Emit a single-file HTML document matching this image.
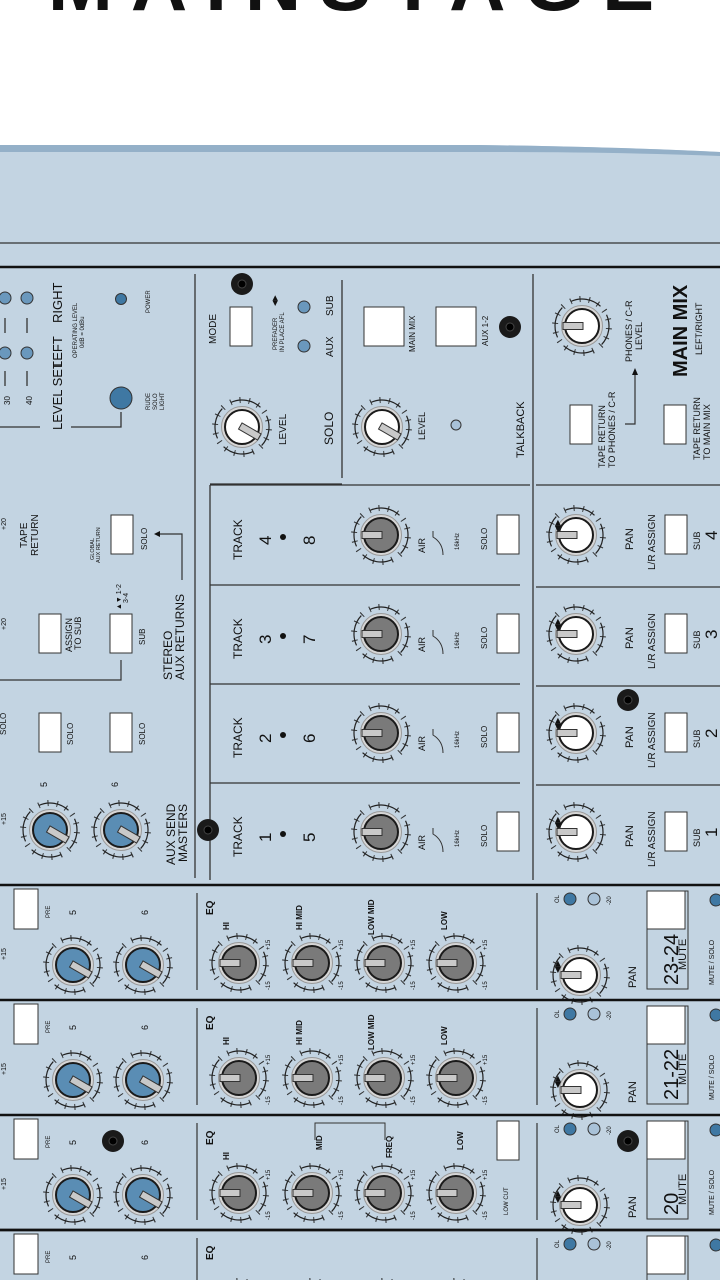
<!DOCTYPE html>
<html><head><meta charset="utf-8">
<style>
html,body{margin:0;padding:0;background:#fff;width:720px;height:1280px;overflow:hidden}
svg{display:block}
text{font-family:"Liberation Sans",sans-serif;fill:#111}
</style></head><body>
<svg width="720" height="1280" viewBox="0 0 720 1280" xmlns="http://www.w3.org/2000/svg">
<defs>
<g id="ring"><circle r="27" fill="none" stroke="#222" stroke-width="1.2" stroke-dasharray="32 10.4" transform="rotate(65)"/><circle r="27" fill="none" stroke="#222" stroke-width="6" stroke-dasharray="1 8.4" transform="rotate(65)" opacity=".9"/></g>
<g id="kg"><use href="#ring"/><circle r="20.5" fill="#d6d6d6" stroke="#999" stroke-width="1"/><circle r="17" fill="#7a7a7a" stroke="#1a1a1a" stroke-width="2"/><rect x="-19" y="-3.5" width="20" height="7" fill="#c9c9c9" stroke="#333" stroke-width="1"/></g>
<g id="kw"><use href="#ring"/><circle r="20.5" fill="#d6d6d6" stroke="#999" stroke-width="1"/><circle r="17" fill="#fff" stroke="#1a1a1a" stroke-width="2"/><rect x="-19" y="-3.5" width="20" height="7" fill="#c9c9c9" stroke="#333" stroke-width="1"/></g>
<g id="kb"><use href="#ring"/><circle r="20.5" fill="#d6d6d6" stroke="#999" stroke-width="1"/><circle r="17" fill="#5a8db4" stroke="#1a1a1a" stroke-width="2"/><rect x="-2" y="-3.5" width="22" height="7" fill="#c9c9c9" stroke="#333" stroke-width="1" transform="rotate(30)"/></g>
<g id="kwr"><use href="#ring"/><circle r="20.5" fill="#d6d6d6" stroke="#999" stroke-width="1"/><circle r="17" fill="#fff" stroke="#1a1a1a" stroke-width="2"/><rect x="-2" y="-3.5" width="22" height="7" fill="#c9c9c9" stroke="#333" stroke-width="1" transform="rotate(30)"/></g>
<g id="jack"><circle r="11" fill="#1a1a1a"/><circle r="4" fill="#000" stroke="#444"/></g>
</defs>

<text x="360" y="10" font-size="78" font-weight="bold" text-anchor="middle" letter-spacing="18">MAINSTAGE</text>

<path d="M0 145 L480 145 Q620 147 720 152 L720 1280 L0 1280 Z" fill="#c3d4e2"/>
<path d="M0 145 L480 145 Q620 147 720 152 L720 156 Q620 152 480 152 L0 152 Z" fill="#94b0c8"/>
<line x1="0" y1="243" x2="720" y2="243" stroke="#333" stroke-width="1.2"/>
<line x1="0" y1="267" x2="720" y2="267" stroke="#111" stroke-width="2.5"/>

<g stroke="#333" stroke-width="1.3">
<line x1="195" y1="274" x2="195" y2="878"/>
<line x1="533" y1="274" x2="533" y2="880"/>
<line x1="342" y1="280" x2="342" y2="478"/>
<line x1="210" y1="485" x2="530" y2="485"/>
<line x1="210" y1="485" x2="210" y2="880"/>
<line x1="210" y1="585" x2="520" y2="585"/>
<line x1="210" y1="684" x2="520" y2="684"/>
<line x1="210" y1="783" x2="520" y2="783"/>
<line x1="536" y1="485" x2="720" y2="485"/>
<line x1="536" y1="587" x2="720" y2="587"/>
<line x1="536" y1="686" x2="720" y2="686"/>
<line x1="536" y1="785" x2="720" y2="785"/>
</g>

<g fill="#6a98bd" stroke="#333" stroke-width="1">
<circle cx="5" cy="298" r="6"/><circle cx="27" cy="298" r="6"/>
<circle cx="5" cy="353" r="6"/><circle cx="27" cy="353" r="6"/>
<circle cx="121" cy="299" r="5.5" fill="#3f78a3"/>
<circle cx="121" cy="398" r="11" fill="#3f78a3"/>
</g>
<g stroke="#333" stroke-width="1.3">
<line x1="5" y1="318" x2="5" y2="333"/><line x1="27" y1="318" x2="27" y2="333"/>
<line x1="5" y1="371" x2="5" y2="386"/><line x1="27" y1="371" x2="27" y2="386"/>
<polyline points="0,427 40,427" fill="none"/>
<polyline points="71,427 121,427 121,412" fill="none"/>
</g>
<text transform="translate(10,405) rotate(-90)" font-size="8">30</text>
<text transform="translate(32,405) rotate(-90)" font-size="8">40</text>
<text transform="translate(62,430) rotate(-90)" font-size="13">LEVEL SET</text>
<text transform="translate(62,368) rotate(-90)" font-size="13">LEFT</text>
<text transform="translate(62,323) rotate(-90)" font-size="13">RIGHT</text>
<text transform="translate(77,358) rotate(-90)" font-size="6">OPERATING LEVEL</text>
<text transform="translate(84,348) rotate(-90)" font-size="6">0dB = 0dBu</text>
<text transform="translate(150,313) rotate(-90)" font-size="6">POWER</text>
<text transform="translate(150,410) rotate(-90)" font-size="6">RUDE</text>
<text transform="translate(157,410) rotate(-90)" font-size="6">SOLO</text>
<text transform="translate(164,410) rotate(-90)" font-size="6">LIGHT</text>

<text transform="translate(6,530) rotate(-90)" font-size="7">+20</text>
<text transform="translate(6,630) rotate(-90)" font-size="7">+20</text>
<text transform="translate(27,548) rotate(-90)" font-size="10">TAPE</text>
<text transform="translate(38,556) rotate(-90)" font-size="10">RETURN</text>
<text transform="translate(94,560) rotate(-90)" font-size="5.5">GLOBAL</text>
<text transform="translate(100,563) rotate(-90)" font-size="5.5">AUX RETURN</text>
<rect x="111" y="515" width="22" height="39" fill="#fff" stroke="#333"/>
<text transform="translate(147,550) rotate(-90)" font-size="8">SOLO</text>
<polyline points="156,534 182,534 182,580" fill="none" stroke="#333" stroke-width="1.2"/>
<path d="M154 534 l6 -3 v6 z" fill="#111"/>
<text transform="translate(172,680) rotate(-90)" font-size="12">STEREO</text>
<text transform="translate(184,680) rotate(-90)" font-size="12">AUX RETURNS</text>
<rect x="39" y="614" width="22" height="39" fill="#fff" stroke="#333"/>
<text transform="translate(72,652) rotate(-90)" font-size="9">ASSIGN</text>
<text transform="translate(81,650) rotate(-90)" font-size="9">TO SUB</text>
<rect x="110" y="614" width="22" height="39" fill="#fff" stroke="#333"/>
<text transform="translate(145,645) rotate(-90)" font-size="8">SUB</text>
<text transform="translate(121,610) rotate(-90)" font-size="7">▲▼ 1-2</text>
<text transform="translate(128,603) rotate(-90)" font-size="7">3-4</text>
<polyline points="0,680 121,680 121,660 M50,680 50,660" fill="none" stroke="#333" stroke-width="1.2"/>
<text transform="translate(6,735) rotate(-90)" font-size="8">SOLO</text>
<rect x="39" y="713" width="22" height="39" fill="#fff" stroke="#333"/>
<text transform="translate(73,745) rotate(-90)" font-size="8">SOLO</text>
<rect x="110" y="713" width="22" height="39" fill="#fff" stroke="#333"/>
<text transform="translate(145,745) rotate(-90)" font-size="8">SOLO</text>
<text x="47" y="787" font-size="9" transform="rotate(-90 47 787)">5</text>
<text x="118" y="787" font-size="9" transform="rotate(-90 118 787)">6</text>
<use href="#kb" transform="translate(50,830)"/>
<use href="#kb" transform="translate(121,830)"/>
<text transform="translate(6,825) rotate(-90)" font-size="7">+15</text>
<text transform="translate(175,865) rotate(-90)" font-size="12">AUX SEND</text>
<text transform="translate(187,862) rotate(-90)" font-size="12">MASTERS</text>
<use href="#jack" transform="translate(208,830)"/>

<use href="#jack" transform="translate(242,284)"/>
<rect x="230" y="307" width="22" height="39" fill="#fff" stroke="#333"/>
<text transform="translate(216,344) rotate(-90)" font-size="10">MODE</text>
<text transform="translate(277,350) rotate(-90)" font-size="6">PREFADER</text>
<text transform="translate(284,352) rotate(-90)" font-size="6">IN PLACE AFL</text>
<text transform="translate(277,306) rotate(-90)" font-size="7">◀▶</text>
<circle cx="304" cy="307" r="6" fill="#6a98bd" stroke="#333"/>
<circle cx="304" cy="346" r="6" fill="#6a98bd" stroke="#333"/>
<text transform="translate(333,316) rotate(-90)" font-size="10">SUB</text>
<text transform="translate(333,357) rotate(-90)" font-size="10">AUX</text>
<use href="#kwr" transform="translate(242,427)"/>
<text transform="translate(286,445) rotate(-90)" font-size="10">LEVEL</text>
<text transform="translate(333,445) rotate(-90)" font-size="12">SOLO</text>
<line x1="210" y1="484" x2="342" y2="484" stroke="#333" stroke-width="1.3"/>

<rect x="364" y="307" width="40" height="39" fill="#fff" stroke="#333"/>
<text transform="translate(415,352) rotate(-90)" font-size="8">MAIN MIX</text>
<rect x="436" y="307" width="40" height="39" fill="#fff" stroke="#333"/>
<text transform="translate(488,346) rotate(-90)" font-size="8">AUX 1-2</text>
<use href="#jack" transform="translate(510,327)"/>
<use href="#kwr" transform="translate(382,427)"/>
<text transform="translate(425,440) rotate(-90)" font-size="9">LEVEL</text>
<circle cx="456" cy="425" r="5" fill="#a9c2d8" stroke="#333"/>
<text transform="translate(524,458) rotate(-90)" font-size="11">TALKBACK</text>

<use href="#kw" transform="translate(582,326)"/>
<text transform="translate(632,362) rotate(-90)" font-size="9">PHONES / C-R</text>
<text transform="translate(642,350) rotate(-90)" font-size="9">LEVEL</text>
<polyline points="625,424 635,424 635,372" fill="none" stroke="#333" stroke-width="1.2"/>
<path d="M635 368 l-3 7 h6 z" fill="#111"/>
<rect x="570" y="405" width="22" height="39" fill="#fff" stroke="#333"/>
<text transform="translate(605,468) rotate(-90)" font-size="9">TAPE RETURN</text>
<text transform="translate(615,468) rotate(-90)" font-size="9">TO PHONES / C-R</text>
<rect x="664" y="405" width="22" height="39" fill="#fff" stroke="#333"/>
<text transform="translate(700,460) rotate(-90)" font-size="9">TAPE RETURN</text>
<text transform="translate(710,460) rotate(-90)" font-size="9">TO MAIN MIX</text>
<text transform="translate(687,377) rotate(-90)" font-size="20" font-weight="bold">MAIN MIX</text>
<text transform="translate(702,355) rotate(-90)" font-size="9">LEFT/RIGHT</text>

<g id="trk">
<text transform="translate(242,560) rotate(-90)" font-size="12">TRACK</text>
<circle cx="283" cy="537" r="3" fill="#111"/>
<use href="#kg" transform="translate(381,535)"/>
<text transform="translate(425,553) rotate(-90)" font-size="9">AIR</text>
<path d="M443 555 q0 -12 -10 -18 q0 -3 0 -6" fill="none" stroke="#333"/>
<text transform="translate(459,550) rotate(-90)" font-size="6">16kHz</text>
<text transform="translate(487,550) rotate(-90)" font-size="8">SOLO</text>
<rect x="497" y="515" width="22" height="39" fill="#fff" stroke="#333"/>
<use href="#kw" transform="translate(576,535)"/>
<text transform="translate(560,532) rotate(-90)" font-size="8">◀▶</text>
<text transform="translate(633,550) rotate(-90)" font-size="11">PAN</text>
<text transform="translate(655,570) rotate(-90)" font-size="10">L/R ASSIGN</text>
<rect x="665" y="515" width="22" height="39" fill="#fff" stroke="#333"/>
<text transform="translate(700,550) rotate(-90)" font-size="9">SUB</text>
</g>
<use href="#trk" transform="translate(0,99)"/>
<use href="#trk" transform="translate(0,198)"/>
<use href="#trk" transform="translate(0,297)"/>
<g font-size="17">
<text transform="translate(271,545) rotate(-90)">4</text><text transform="translate(315,545) rotate(-90)">8</text><text transform="translate(717,540) rotate(-90)">4</text>
<text transform="translate(271,644) rotate(-90)">3</text><text transform="translate(315,644) rotate(-90)">7</text><text transform="translate(717,639) rotate(-90)">3</text>
<text transform="translate(271,743) rotate(-90)">2</text><text transform="translate(315,743) rotate(-90)">6</text><text transform="translate(717,738) rotate(-90)">2</text>
<text transform="translate(271,842) rotate(-90)">1</text><text transform="translate(315,842) rotate(-90)">5</text><text transform="translate(717,837) rotate(-90)">1</text>
</g>
<use href="#jack" transform="translate(628,700)"/>

<g id="ch">
<line x1="0" y1="885" x2="720" y2="885" stroke="#111" stroke-width="2.5"/>
<line x1="197" y1="893" x2="197" y2="990" stroke="#333" stroke-width="1.2"/>
<line x1="537" y1="893" x2="537" y2="990" stroke="#333" stroke-width="1.2"/>
<rect x="14" y="889" width="24" height="40" fill="#fff" stroke="#333"/>
<text transform="translate(50,918) rotate(-90)" font-size="6">PRE</text>
<text transform="translate(76,915) rotate(-90)" font-size="9">5</text>
<text transform="translate(148,915) rotate(-90)" font-size="9">6</text>
<use href="#kb" transform="translate(73,965)"/>
<use href="#kb" transform="translate(143,965)"/>
<text transform="translate(6,960) rotate(-90)" font-size="7">+15</text>
<text transform="translate(213,915) rotate(-90)" font-size="10" font-weight="bold">EQ</text>
<use href="#kg" transform="translate(239,963)"/>
<use href="#kg" transform="translate(312,963)"/>
<use href="#kg" transform="translate(384,963)"/>
<use href="#kg" transform="translate(456,963)"/>
<g font-size="6"><text transform="translate(270,990) rotate(-90)">-15</text><text transform="translate(270,950) rotate(-90)">+15</text>
<text transform="translate(343,990) rotate(-90)">-15</text><text transform="translate(343,950) rotate(-90)">+15</text>
<text transform="translate(415,990) rotate(-90)">-15</text><text transform="translate(415,950) rotate(-90)">+15</text>
<text transform="translate(487,990) rotate(-90)">-15</text><text transform="translate(487,950) rotate(-90)">+15</text></g>
<circle cx="570" cy="899" r="6" fill="#3f78a3" stroke="#333"/>
<circle cx="594" cy="899" r="6" fill="#a9c2d8" stroke="#333"/>
<text transform="translate(559,903) rotate(-90)" font-size="6">OL</text>
<text transform="translate(611,905) rotate(-90)" font-size="6">-20</text>
<use href="#kw" transform="translate(580,975)"/>
<text transform="translate(560,973) rotate(-90)" font-size="8">◀▶</text>
<text transform="translate(636,988) rotate(-90)" font-size="11">PAN</text>
<rect x="647" y="891" width="41" height="98" fill="none" stroke="#333"/>
<rect x="647" y="891" width="38" height="38" fill="#fff" stroke="#333"/>
<text transform="translate(714,985) rotate(-90)" font-size="7">MUTE / SOLO</text>
<circle cx="716" cy="900" r="6" fill="#3f78a3" stroke="#333"/>
</g>
<g transform="translate(0,115)"><use href="#ch"/></g>
<g transform="translate(0,230)"><use href="#ch"/></g>
<g transform="translate(0,345)"><use href="#ch"/></g>
<line x1="0" y1="1230" x2="720" y2="1230" stroke="#111" stroke-width="2.5"/>

<text transform="translate(229,930) rotate(-90)" font-size="8" font-weight="bold">HI</text>
<text transform="translate(302,930) rotate(-90)" font-size="8" font-weight="bold">HI MID</text>
<text transform="translate(374,935) rotate(-90)" font-size="8" font-weight="bold">LOW MID</text>
<text transform="translate(447,930) rotate(-90)" font-size="8" font-weight="bold">LOW</text>
<text transform="translate(678,985) rotate(-90)" font-size="20">23-24</text>
<text transform="translate(686,970) rotate(-90)" font-size="11">MUTE</text>

<text transform="translate(229,1045) rotate(-90)" font-size="8" font-weight="bold">HI</text>
<text transform="translate(302,1045) rotate(-90)" font-size="8" font-weight="bold">HI MID</text>
<text transform="translate(374,1050) rotate(-90)" font-size="8" font-weight="bold">LOW MID</text>
<text transform="translate(447,1045) rotate(-90)" font-size="8" font-weight="bold">LOW</text>
<text transform="translate(678,1100) rotate(-90)" font-size="20">21-22</text>
<text transform="translate(686,1085) rotate(-90)" font-size="11">MUTE</text>

<text transform="translate(229,1160) rotate(-90)" font-size="8" font-weight="bold">HI</text>
<text transform="translate(322,1150) rotate(-90)" font-size="8" font-weight="bold">MID</text>
<text transform="translate(392,1158) rotate(-90)" font-size="8" font-weight="bold">FREQ</text>
<text transform="translate(463,1150) rotate(-90)" font-size="8" font-weight="bold">LOW</text>
<polyline points="315,1140 315,1123 385,1123 385,1140" fill="none" stroke="#333"/>
<rect x="497" y="1121" width="22" height="39" fill="#fff" stroke="#333"/>
<text transform="translate(508,1215) rotate(-90)" font-size="6">LOW CUT</text>
<text transform="translate(678,1215) rotate(-90)" font-size="20">20</text>
<text transform="translate(686,1205) rotate(-90)" font-size="11">MUTE</text>
<use href="#jack" transform="translate(113,1141)"/>
<use href="#jack" transform="translate(628,1141)"/>
</svg>
</body></html>
